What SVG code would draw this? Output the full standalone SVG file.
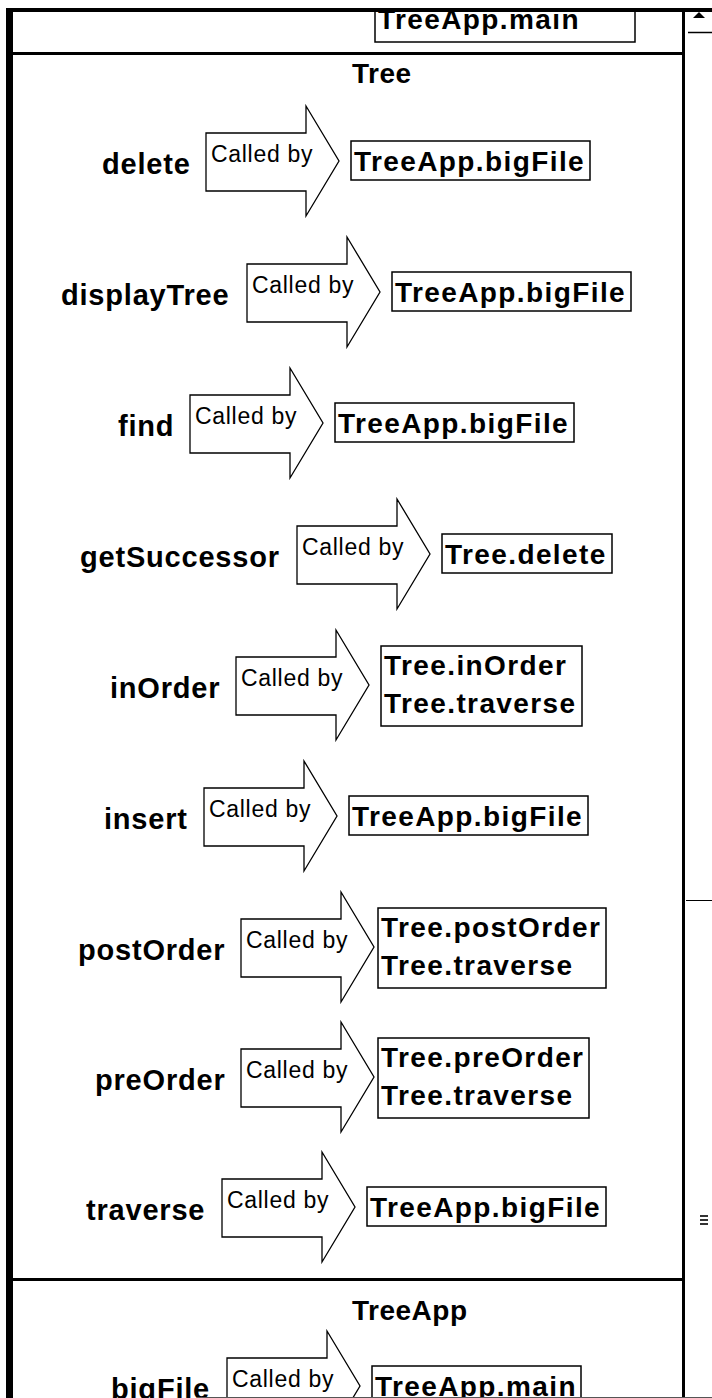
<svg xmlns="http://www.w3.org/2000/svg" width="712" height="1398" viewBox="0 0 712 1398">
  <style>
    .label { font-family: "Liberation Sans", Arial, sans-serif; font-weight: bold; font-size: 29px; letter-spacing: 0.8px; fill: #000; }
    .title { font-family: "Liberation Sans", Arial, sans-serif; font-weight: bold; font-size: 28px; letter-spacing: 0.5px; fill: #000; }
    .callers { font-family: "Liberation Sans", Arial, sans-serif; font-weight: bold; font-size: 28px; letter-spacing: 1.4px; fill: #000; }
    .called { font-family: "Liberation Sans", Arial, sans-serif; font-size: 23px; letter-spacing: 0.7px; fill: #000; }
    .box { fill: #fff; stroke: #000; stroke-width: 1.5; }
    .arrow { fill: #fff; stroke: #000; stroke-width: 1.3; stroke-linejoin: miter; }
    .frame { fill: #000; }
  </style>
  <defs>
    <clipPath id="view">
      <rect x="12" y="10" width="671" height="1388"/>
    </clipPath>
  </defs>

  <rect x="0" y="0" width="712" height="1398" fill="#fff"/>

  <g clip-path="url(#view)">
    <!-- tail of the previous class section, scrolled mostly out of view -->
    <g id="prev-callers">
      <rect class="box" x="375" y="-10" width="260" height="52"/>
      <text class="callers" x="378" y="29">TreeApp.main</text>
    </g>

    <!-- section headers -->
    <g id="class-tree"><text class="title" x="352" y="83">Tree</text></g>
    <g id="class-treeapp"><text class="title" x="352" y="1320">TreeApp</text></g>

    <!-- "Called by" arrows between each method and its callers -->
    <g id="connectors">
      <path class="arrow" d="M206,133 H306 V106 L339,161 L306,216 V191 H206 Z"/>
      <text class="called" x="211" y="162">Called by</text>
      <path class="arrow" d="M247,264 H347 V237 L380,292 L347,347 V322 H247 Z"/>
      <text class="called" x="252" y="293">Called by</text>
      <path class="arrow" d="M190,395 H290 V368 L323,423 L290,478 V453 H190 Z"/>
      <text class="called" x="195" y="424">Called by</text>
      <path class="arrow" d="M297,526 H397 V499 L430,554 L397,609 V584 H297 Z"/>
      <text class="called" x="302" y="555">Called by</text>
      <path class="arrow" d="M236,657 H336 V630 L369,685 L336,740 V715 H236 Z"/>
      <text class="called" x="241" y="686">Called by</text>
      <path class="arrow" d="M204,788 H304 V761 L337,816 L304,871 V846 H204 Z"/>
      <text class="called" x="209" y="817">Called by</text>
      <path class="arrow" d="M241,919 H341 V892 L374,947 L341,1002 V977 H241 Z"/>
      <text class="called" x="246" y="948">Called by</text>
      <path class="arrow" d="M241,1049 H341 V1022 L374,1077 L341,1132 V1107 H241 Z"/>
      <text class="called" x="246" y="1078">Called by</text>
      <path class="arrow" d="M222,1179 H322 V1152 L355,1207 L322,1262 V1237 H222 Z"/>
      <text class="called" x="227" y="1208">Called by</text>
      <path class="arrow" d="M227,1358 H327 V1331 L360,1386 L327,1441 V1416 H227 Z"/>
      <text class="called" x="232" y="1387">Called by</text>
    </g>

    <!-- Tree methods -->
    <g id="m-delete"><text class="label" x="102" y="174">delete</text></g>
    <g id="c-delete">
      <rect class="box" x="351" y="141" width="239" height="39"/>
      <text class="callers" x="354" y="171">TreeApp.bigFile</text>
    </g>

    <g id="m-displayTree"><text class="label" x="61" y="305">displayTree</text></g>
    <g id="c-displayTree">
      <rect class="box" x="392" y="272" width="239" height="39"/>
      <text class="callers" x="395" y="302">TreeApp.bigFile</text>
    </g>

    <g id="m-find"><text class="label" x="118" y="436">find</text></g>
    <g id="c-find">
      <rect class="box" x="335" y="403" width="239" height="39"/>
      <text class="callers" x="338" y="433">TreeApp.bigFile</text>
    </g>

    <g id="m-getSuccessor"><text class="label" x="80" y="567">getSuccessor</text></g>
    <g id="c-getSuccessor">
      <rect class="box" x="442" y="534" width="170" height="39"/>
      <text class="callers" x="445" y="564">Tree.delete</text>
    </g>

    <g id="m-inOrder"><text class="label" x="110" y="698">inOrder</text></g>
    <g id="c-inOrder">
      <rect class="box" x="381" y="646" width="201" height="80"/>
      <text class="callers" x="384" y="675">Tree.inOrder</text>
      <text class="callers" x="384" y="713">Tree.traverse</text>
    </g>

    <g id="m-insert"><text class="label" x="104" y="829">insert</text></g>
    <g id="c-insert">
      <rect class="box" x="349" y="796" width="239" height="39"/>
      <text class="callers" x="352" y="826">TreeApp.bigFile</text>
    </g>

    <g id="m-postOrder"><text class="label" x="78" y="960">postOrder</text></g>
    <g id="c-postOrder">
      <rect class="box" x="378" y="908" width="228" height="80"/>
      <text class="callers" x="381" y="937">Tree.postOrder</text>
      <text class="callers" x="381" y="975">Tree.traverse</text>
    </g>

    <g id="m-preOrder"><text class="label" x="95" y="1090">preOrder</text></g>
    <g id="c-preOrder">
      <rect class="box" x="378" y="1038" width="211" height="80"/>
      <text class="callers" x="381" y="1067">Tree.preOrder</text>
      <text class="callers" x="381" y="1105">Tree.traverse</text>
    </g>

    <g id="m-traverse"><text class="label" x="86" y="1220">traverse</text></g>
    <g id="c-traverse">
      <rect class="box" x="367" y="1187" width="239" height="39"/>
      <text class="callers" x="370" y="1217">TreeApp.bigFile</text>
    </g>

    <!-- TreeApp methods -->
    <g id="m-bigFile"><text class="label" x="111" y="1399">bigFile</text></g>
    <g id="c-bigFile">
      <rect class="box" x="372" y="1366" width="209" height="39"/>
      <text class="callers" x="375" y="1396">TreeApp.main</text>
    </g>
  </g>

  <!-- window frame and section dividers -->
  <g id="frame">
    <rect class="frame" x="6" y="8" width="706" height="4"/>
    <rect class="frame" x="6" y="8" width="7" height="1390"/>
    <rect class="frame" x="682" y="8" width="3" height="1390"/>
    <rect class="frame" x="12" y="52" width="671" height="3"/>
    <rect class="frame" x="12" y="1278" width="671" height="3"/>
    <line x1="197" y1="1397.5" x2="712" y2="1397.5" stroke="#555" stroke-width="1"/>
  </g>

  <!-- vertical scrollbar -->
  <g id="scrollbar">
    <polygon points="699,12 693,18 705,18" fill="#000"/>
    <line x1="688" y1="32.5" x2="712" y2="32.5" stroke="#000" stroke-width="1.5"/>
    <line x1="686" y1="900.5" x2="712" y2="900.5" stroke="#000" stroke-width="1"/>
    <g stroke="#000" stroke-width="1.6">
      <line x1="700" y1="1216" x2="708" y2="1216"/>
      <line x1="700" y1="1220" x2="708" y2="1220"/>
      <line x1="700" y1="1224" x2="708" y2="1224"/>
    </g>
  </g>
</svg>
